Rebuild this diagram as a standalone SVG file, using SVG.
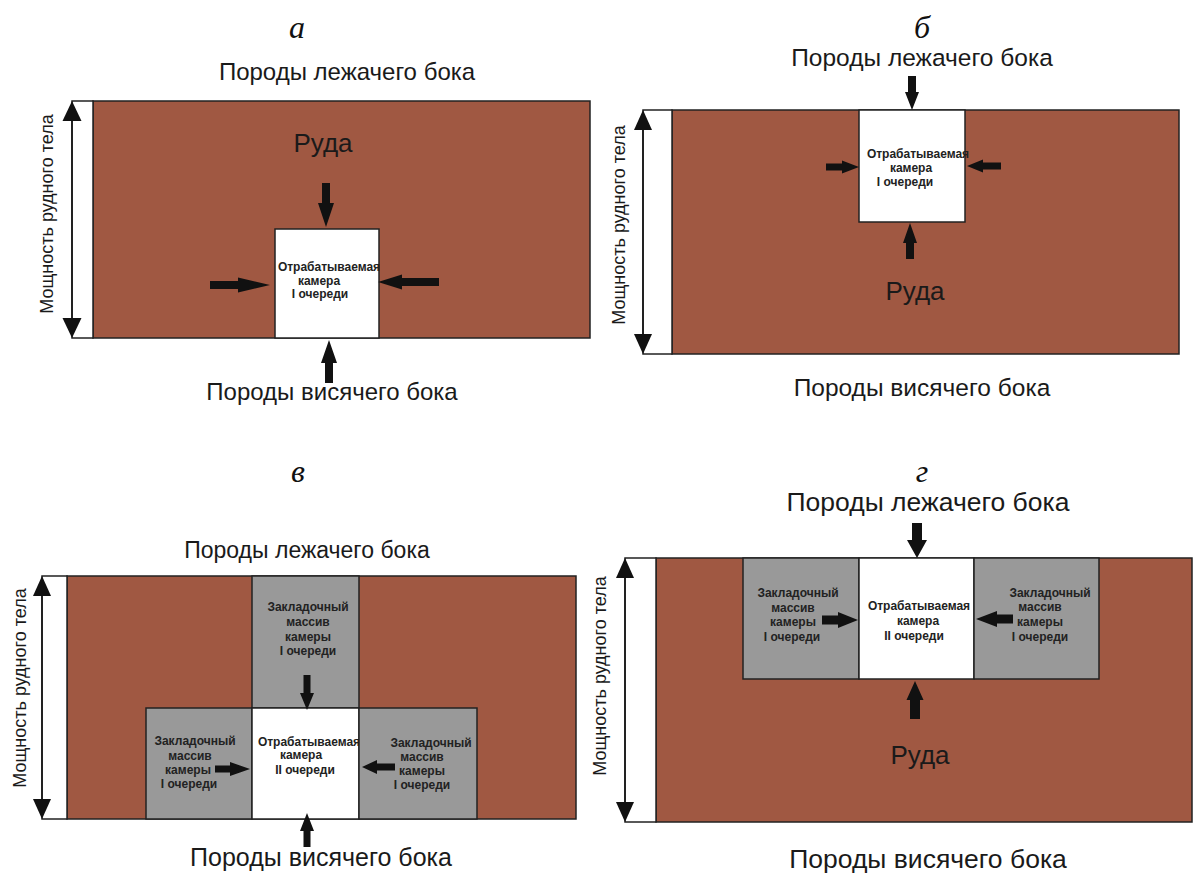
<svg xmlns="http://www.w3.org/2000/svg" width="1194" height="873" viewBox="0 0 1194 873">
<style>
.ore{fill:#a05842;stroke:#222;stroke-width:1.5}
.strip{fill:#fff;stroke:#222;stroke-width:1.5}
.cam{fill:#fff;stroke:#222;stroke-width:1.5}
.fill{fill:#999;stroke:#222;stroke-width:1.5}
.arr{fill:#111;stroke:none}
.dim{stroke:#111;stroke-width:1.5;fill:none}
.lbl{font-family:"Liberation Sans",Arial,sans-serif;fill:#1a1a1a;text-anchor:middle}
.box{font-family:"Liberation Sans",Arial,sans-serif;font-weight:bold;font-size:12px;fill:#222;text-anchor:middle}
.head{font-family:"Liberation Serif","Times New Roman",serif;font-style:italic;font-size:32px;fill:#111;text-anchor:middle}
.ruda{font-family:"Liberation Sans",Arial,sans-serif;font-size:26px;fill:#1a1a1a;text-anchor:middle}
.rot{font-family:"Liberation Sans",Arial,sans-serif;font-size:18px;fill:#1a1a1a;text-anchor:middle}
</style>
<rect width="1194" height="873" fill="#fff"/>

<!-- Panel a -->
<g id="panel-a">
  <text class="head" x="297" y="38">а</text>
  <text class="lbl" x="347" y="80" font-size="24">Породы лежачего бока</text>
  <g id="a-ore"><rect class="ore" x="93" y="101" width="497" height="237"/><rect class="strip" x="72" y="101" width="21" height="237"/><text class="ruda" x="323" y="152">Руда</text></g>
  <g id="a-camera"><rect class="cam" x="275" y="229" width="104" height="109"/>
    <text class="box" x="329" y="271">Отрабатываемая</text><text class="box" x="319" y="285">камера</text><text class="box" x="320" y="298">I очереди</text></g>
  <text class="lbl" x="332" y="400" font-size="24">Породы висячего бока</text>
  <text class="rot" transform="translate(53,214) rotate(-90)">Мощность рудного тела</text>
</g>

<!-- Panel b -->
<g id="panel-b">
  <text class="head" x="922" y="38">б</text>
  <text class="lbl" x="922" y="66" font-size="24.5">Породы лежачего бока</text>
  <g id="b-ore"><rect class="ore" x="672" y="110" width="507" height="244"/><rect class="strip" x="643" y="110" width="29" height="244"/><text class="ruda" x="915" y="300">Руда</text></g>
  <g id="b-camera"><rect class="cam" x="859" y="110" width="106" height="112"/>
    <text class="box" x="918" y="158">Отрабатываемая</text><text class="box" x="911" y="172">камера</text><text class="box" x="905" y="186">I очереди</text></g>
  <text class="lbl" x="922" y="396" font-size="24.5">Породы висячего бока</text>
  <text class="rot" transform="translate(625,225) rotate(-90)">Мощность рудного тела</text>
</g>

<!-- Panel v -->
<g id="panel-v">
  <text class="head" x="298" y="482">в</text>
  <text class="lbl" x="307" y="558" font-size="23">Породы лежачего бока</text>
  <g id="v-ore"><rect class="ore" x="67" y="576" width="509" height="243"/><rect class="strip" x="42" y="576" width="25" height="243"/></g>
  <g id="v-fill-top"><rect class="fill" x="252" y="576" width="107" height="132"/>
    <text class="box" x="308" y="611">Закладочный</text><text class="box" x="308" y="626">массив</text><text class="box" x="308" y="641">камеры</text><text class="box" x="308" y="655">I очереди</text></g>
  <g id="v-fill-left"><rect class="fill" x="146" y="708" width="106" height="111"/>
    <text class="box" x="195" y="745">Закладочный</text><text class="box" x="190" y="760">массив</text><text class="box" x="188" y="774">камеры</text><text class="box" x="189" y="788">I очереди</text></g>
  <g id="v-camera"><rect class="cam" x="252" y="708" width="107" height="111"/>
    <text class="box" x="309" y="746">Отрабатываемая</text><text class="box" x="301" y="759">камера</text><text class="box" x="305" y="774">II очереди</text></g>
  <g id="v-fill-right"><rect class="fill" x="359" y="708" width="118" height="111"/>
    <text class="box" x="431" y="747">Закладочный</text><text class="box" x="422" y="761">массив</text><text class="box" x="422" y="775">камеры</text><text class="box" x="422" y="789">I очереди</text></g>
  <text class="lbl" x="321" y="866" font-size="25">Породы висячего бока</text>
  <text class="rot" transform="translate(26,688) rotate(-90)">Мощность рудного тела</text>
</g>

<!-- Panel g -->
<g id="panel-g">
  <text class="head" x="922" y="482">г</text>
  <text class="lbl" x="928" y="511" font-size="26.5">Породы лежачего бока</text>
  <g id="g-ore"><rect class="ore" x="656" y="558" width="536" height="264"/><rect class="strip" x="625" y="558" width="31" height="264"/><text class="ruda" x="920" y="764">Руда</text></g>
  <g id="g-fill-left"><rect class="fill" x="743" y="558" width="116" height="121"/>
    <text class="box" x="798" y="597">Закладочный</text><text class="box" x="793" y="612">массив</text><text class="box" x="793" y="626">камеры</text><text class="box" x="792" y="641">I очереди</text></g>
  <g id="g-camera"><rect class="cam" x="859" y="558" width="115" height="121"/>
    <text class="box" x="919" y="610">Отрабатываемая</text><text class="box" x="918" y="625">камера</text><text class="box" x="914" y="640">II очереди</text></g>
  <g id="g-fill-right"><rect class="fill" x="974" y="558" width="125" height="121"/>
    <text class="box" x="1050" y="597">Закладочный</text><text class="box" x="1040" y="611">массив</text><text class="box" x="1040" y="626">камеры</text><text class="box" x="1040" y="641">I очереди</text></g>
  <text class="lbl" x="928" y="868" font-size="26.5">Породы висячего бока</text>
  <text class="rot" transform="translate(606,676) rotate(-90)">Мощность рудного тела</text>
</g>

<g id="connectors">
  <!-- dimension arrows -->
  <line class="dim" x1="72" y1="115" x2="72" y2="324"/>
  <polygon class="arr" points="72,101 62.5,121 81.5,121"/><polygon class="arr" points="72,338 62.5,318 81.5,318"/>
  <line class="dim" x1="643" y1="124" x2="643" y2="340"/>
  <polygon class="arr" points="643,110 634,130 652,130"/><polygon class="arr" points="643,354 634,334 652,334"/>
  <line class="dim" x1="42" y1="590" x2="42" y2="805"/>
  <polygon class="arr" points="42,576 33,596 51,596"/><polygon class="arr" points="42,819 33,799 51,799"/>
  <line class="dim" x1="625" y1="572" x2="625" y2="808"/>
  <polygon class="arr" points="625,558 616,578 634,578"/><polygon class="arr" points="625,822 616,802 634,802"/>
  <!-- panel a pressure arrows -->
  <polygon class="arr" points="322,183 330,183 330,203 334,203 326,227 318,203 322,203"/>
  <polygon class="arr" points="325,383 333,383 333,363 337,363 329,340 321,363 325,363"/>
  <polygon class="arr" points="210,281 238,281 238,277.5 270,285 238,292.5 238,289 210,289"/>
  <polygon class="arr" points="439,278 402,278 402,274.5 378,282 402,289.5 402,286 439,286"/>
  <!-- panel b -->
  <polygon class="arr" points="908,76 916,76 916,92 919,92 912,110 905,92 908,92"/>
  <polygon class="arr" points="906,259 914,259 914,243 917,243 910,223 903,243 906,243"/>
  <polygon class="arr" points="826,163.5 842,163.5 842,160.5 859,167 842,173.5 842,170.5 826,170.5"/>
  <polygon class="arr" points="1001,162.5 983,162.5 983,159.5 967,166 983,172.5 983,169.5 1001,169.5"/>
  <!-- panel v -->
  <polygon class="arr" points="303.5,675 310.5,675 310.5,693 314,693 307,710 300,693 303.5,693"/>
  <polygon class="arr" points="303.5,847 310.5,847 310.5,831 314,831 307,813 300,831 303.5,831"/>
  <polygon class="arr" points="215,765.5 230,765.5 230,762 250,769 230,776 230,772.5 215,772.5"/>
  <polygon class="arr" points="395,763.5 377,763.5 377,760 362,767 377,774 377,770.5 395,770.5"/>
  <!-- panel g -->
  <polygon class="arr" points="912,523 922,523 922,540 927,540 917,558 907,540 912,540"/>
  <polygon class="arr" points="910,719 920,719 920,700 923.5,700 915,681 906.5,700 910,700"/>
  <polygon class="arr" points="822,615.5 838,615.5 838,612 858,620 838,628 838,624.5 822,624.5"/>
  <polygon class="arr" points="1013,614.5 997,614.5 997,611 976,619 997,627 997,623.5 1013,623.5"/>
</g>
</svg>
